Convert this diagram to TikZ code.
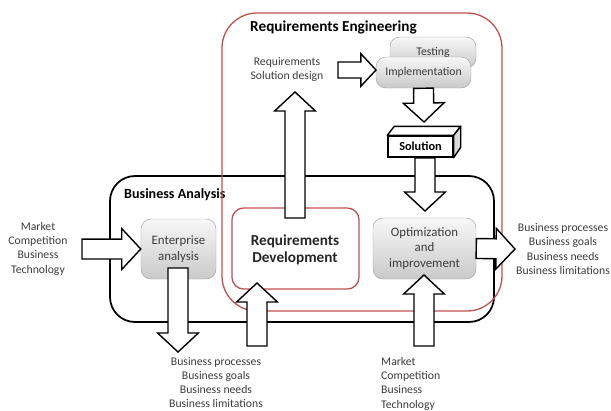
\documentclass[tikz,border=0pt]{standalone}
\usepackage{fontspec}
\setmainfont{Carlito}
\usetikzlibrary{calc}
\definecolor{reqred}{RGB}{192,80,77}
\definecolor{txtgray}{RGB}{60,60,60}

% block arrow from #2 to #3, #1 scales its widths
\newcommand{\blockarrow}[3][1]{%
\draw [blockline] let \p1=(#2), \p2=(#3),
  \n1={atan2(\y2-\y1,\x2-\x1)}, \n2={veclen(\x2-\x1,\y2-\y1)},
  \n3={#1*8.5}, \n4={#1*17.4}, \n5={#1*16.2} in
  [shift={(\p1)}, rotate=\n1]
  (0pt,{-\n3*1pt}) -- ({(\n2-\n5)*1pt},{-\n3*1pt}) -- ({(\n2-\n5)*1pt},{-\n4*1pt})
  -- ({\n2*1pt},0pt) -- ({(\n2-\n5)*1pt},{\n4*1pt}) -- ({(\n2-\n5)*1pt},{\n3*1pt})
  -- (0pt,{\n3*1pt}) -- cycle;
}

\begin{document}
\begin{tikzpicture}[x=0.03cm,y=-0.03cm]
\tikzstyle{blockline}=[black, line width=1.2pt, fill=white]
\tikzstyle{graybox}=[draw=gray!75, top color=gray!6, bottom color=gray!42, rounded corners=0.3cm, text=txtgray, align=center, font=\fontsize{11}{13.5}\selectfont]
\tikzstyle{smallbox}=[graybox, minimum height=0.93cm, font=\fontsize{10}{12}\selectfont]
\tikzstyle{label}=[text=txtgray, font=\fontsize{10}{12.2}\selectfont, inner sep=0pt]
\tikzstyle{title}=[anchor=west, inner sep=0pt, font=\bfseries\fontsize{12}{14}\selectfont]
\useasboundingbox (0,0) rectangle (611,410);

% frames
\draw [black, line width=1.5pt, rounded corners=0.75cm] (110,176) rectangle (494,322);
\node (ba) [title] at (124,195) {Business Analysis};
\node (re) [title, font=\bfseries\fontsize{13}{15}\selectfont] at (250,27) {Requirements Engineering};
\draw [reqred, line width=1.1pt, rounded corners=1.05cm] (222,13) rectangle (502,311);
\draw [reqred, line width=1.1pt, rounded corners=0.35cm] (232,208) rectangle (359,289);

% boxes
\node (ent) [graybox, minimum width=2.25cm, minimum height=1.8cm] at (178.5,249) {Enterprise\\analysis};
\node (opt) [graybox, minimum width=3.09cm, minimum height=1.83cm] at (424.5,248.5) {Optimization\\and\\improvement};
\node (rd) [align=center, text=black!85, font=\bfseries\fontsize{13}{14.5}\selectfont] at (295,249.5) {Requirements\\Development};
\node (test) [smallbox, minimum width=2.58cm] at (433,52.5) {Testing};
\node (impl) [smallbox, minimum width=2.85cm] at (423.5,72.5) {Implementation};
\node (sol) [draw, line width=1.2pt, fill=white, minimum width=1.95cm, minimum height=0.63cm, font=\bfseries\fontsize{10.5}{12}\selectfont] at (420.5,146.5) {Solution};
\draw [line width=1.2pt, line join=round, fill=white] (sol.north west) -- ++(7,-9) -- ($(sol.north east)+(7,-9)$) -- (sol.north east) -- cycle;
\draw [line width=1.2pt, line join=round, fill=gray!30] (sol.north east) -- ++(7,-9) -- ++(0,21) -- (sol.south east) -- cycle;

% texts
\node (mktleft) [label, align=center] at (38,248.5) {Market\\Competition\\Business\\Technology};
\node (bizdown) [label, align=center] at (216,382.5) {Business processes\\Business goals\\Business needs\\Business limitations};
\node (bizright) [label, align=center] at (563,249) {Business processes\\Business goals\\Business needs\\Business limitations};
\node (mktdown) [label, align=left, anchor=west] at (381,383.5) {Market\\Competition\\Business\\Technology};
\node (rsd) [label, align=center] at (287,69.5) {Requirements\\Solution design};

% arrows
\coordinate (mktout) at (82,249);
\coordinate (entout) at (178,268);
\coordinate (entend) at (178,352);
\coordinate (rdin) at (257,346);
\coordinate (rdtip) at (257,283);
\coordinate (rdout) at (295,218);
\coordinate (rsdin) at (295,92);
\coordinate (rsdout) at (338,70);
\coordinate (implin) at (376,70);
\coordinate (solin) at (424,122);
\coordinate (solout) at (425,158);
\coordinate (optin) at (425,211);
\coordinate (optend) at (515,249);
\coordinate (mktup) at (424,346);
\coordinate (opttip) at (424,275);
\blockarrow{mktout}{ent.west}
\blockarrow{entout}{entend}
\blockarrow{rdin}{rdtip}
\blockarrow{rdout}{rsdin}
\blockarrow[0.8]{rsdout}{implin}
\blockarrow{impl.south}{solin}
\blockarrow{solout}{optin}
\blockarrow{opt.east}{optend}
\blockarrow{mktup}{opttip}
\end{tikzpicture}
\end{document}
